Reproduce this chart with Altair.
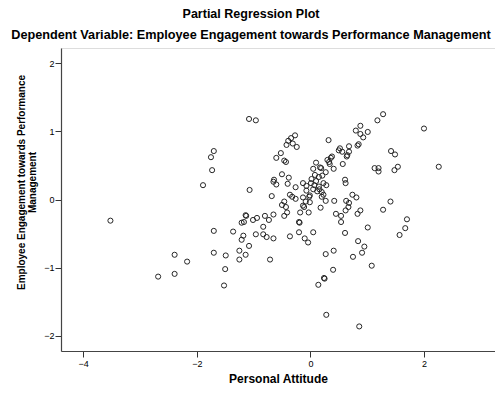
import altair as alt
import pandas as pd

attitude = [
    -1.08, -0.96, -1.70, -1.75, -1.73, -1.89, -1.07, -0.60, -0.52, -0.46,
    -0.43, -0.64, -0.65, -0.60, -0.50, -0.38, -0.40, -0.26, -0.68, -0.36,
    -0.32, -0.26, -0.13, -0.46, -0.50, -0.43, -0.41, -0.46,
    -0.27, -0.34, -0.39, -0.42, -0.31, -0.24, 0.32, 0.88, 0.80, 1.01,
    0.88, 0.93, 1.28, 1.18, 2.00, 0.85, 0.83, 0.68, 0.52, 0.50,
    0.56, 0.68, 0.65, 0.64, 1.42, 1.49, 0.38, 0.36, 0.30, 0.33,
    0.10, 0.57, 0.17, 0.19, 0.05, 0.41, 1.13, 1.20, 1.20, 1.54,
    1.48, 2.26, 0.27, 0.08, 0.15, 0.21, 0.34, 0.61, 0.62,
    -0.13, -0.07, 0.01, 0.07, 0.15, 0.23, 0.28, 0.05, 0.16, 0.20,
    -0.07, -0.01, 0.23, 0.10, 0.02, 0.12, -0.02, 0.20,
    0.74, 0.81, 0.42, 0.63, 0.68, 0.67, 0.62, 0.88, 0.83, 0.45,
    0.54, 0.54, 1.41, 1.28, 1.70, 1.67, 1.57, 1.01, 0.61, 0.84,
    0.95, 0.91, 0.41, 0.75, 1.08, 0.27, 0.40, 0.24, 0.25, 0.14,
    0.28, 0.86,
    -0.08, -0.01, -0.13, -0.11, -0.18, -0.03, 0.18, 0.27, -0.20, -0.19,
    -0.36, -0.20, -0.10, -0.04, 0.05,
    -1.14, -1.17, -1.21, -1.01, -0.94, -0.80, -0.73, -0.65, -0.83, -0.96,
    -0.83, -0.77, -0.65, -1.18, -1.21, -1.08, -1.14, -0.71, -1.70, -1.36,
    -1.70, -1.49, -1.25, -1.25, -2.39, -2.17, -1.50, -2.39, -2.68, -1.52,
    -3.52, -1.13,
]
engagement = [
    1.18, 1.16, 0.71, 0.62, 0.43, 0.21, 0.14, 0.61, 0.68, 0.57,
    0.55, 0.29, 0.26, 0.22, 0.37, 0.32, 0.23, 0.18, 0.05, 0.07,
    0.04, 0.01, 0.03, -0.03, -0.08, -0.11, -0.19, -0.24,
    0.94, 0.90, 0.86, 0.80, 0.82, 0.77, 0.87, 1.08, 1.01, 0.99,
    0.96, 0.91, 1.25, 1.16, 1.04, 0.81, 0.79, 0.78, 0.75, 0.72,
    0.70, 0.70, 0.65, 0.63, 0.71, 0.66, 0.63, 0.61, 0.58, 0.55,
    0.54, 0.52, 0.47, 0.46, 0.45, 0.45, 0.46, 0.46, 0.41, 0.48,
    0.43, 0.48, 0.40, 0.36, 0.33, 0.35, 0.52, 0.29, 0.24,
    0.24, 0.20, 0.24, 0.21, 0.19, 0.24, 0.21, 0.15, 0.15, 0.11,
    0.13, 0.06, 0.07, 0.27, 0.30, 0.12, 0.04, 0.04,
    0.07, 0.03, -0.02, -0.02, -0.05, -0.11, -0.16, -0.16, -0.21, -0.21,
    -0.24, -0.33, -0.03, -0.15, -0.29, -0.42, -0.52, -0.41, -0.49, -0.61,
    -0.69, -0.78, -0.75, -0.84, -0.97, -0.80, -1.03, -1.15, -1.16, -1.25,
    -1.69, -1.86,
    -0.03, -0.04, -0.09, -0.11, -0.19, -0.19, -0.12, -0.02, -0.33, -0.34,
    -0.54, -0.48, -0.57, -0.63, -0.48,
    -0.23, -0.33, -0.34, -0.30, -0.27, -0.24, -0.30, -0.22, -0.40, -0.51,
    -0.51, -0.55, -0.57, -0.53, -0.59, -0.68, -0.81, -0.88, -0.46, -0.47,
    -0.78, -0.82, -0.75, -0.88, -0.81, -0.91, -1.02, -1.09, -1.13, -1.26,
    -0.31, -0.24,
]

x_ticks = [-4, -2, 0, 2]
y_ticks = [-2, -1, 0, 1, 2]

df = pd.DataFrame({"Personal Attitude": attitude, "Engagement": engagement})

FONT = "Liberation Sans"

chart = (
    alt.Chart(df)
    .mark_point(shape="circle", filled=False, size=26, strokeWidth=1, color="#262626", opacity=1)
    .encode(
        x=alt.X(
            "Personal Attitude:Q",
            scale=alt.Scale(domain=[-4.39, 3.25], nice=False, zero=False),
            axis=alt.Axis(
                values=x_ticks, grid=False, title="Personal Attitude",
                titleFont=FONT, titleFontSize=12, titleFontWeight="bold", titleColor="black",
                titlePadding=5,
                labelFont=FONT, labelFontSize=9, labelColor="black", labelPadding=2,
                tickSize=6, tickColor="#333", domainColor="#444", domainWidth=1.2,
            ),
        ),
        y=alt.Y(
            "Engagement:Q",
            scale=alt.Scale(domain=[-2.22, 2.22], nice=False, zero=False),
            axis=alt.Axis(
                values=y_ticks, grid=False,
                title=["Employee Engagement towards Performance", "Management"],
                titleFont=FONT, titleFontSize=10, titleFontWeight="bold", titleColor="black",
                titleX=-45, titleY=134, titleAlign="center", titleBaseline="top",
                titleLineHeight=11, titleAngle=270,
                labelFont=FONT, labelFontSize=9, labelColor="black", labelPadding=1,
                tickSize=6, tickColor="#333", domainColor="#444", domainWidth=1.2,
            ),
        ),
    )
    .properties(
        width=434,
        height=303,
        autosize=alt.AutoSizeParams(type="none"),
        padding={"left": 53, "top": 40, "right": 0, "bottom": 34},
        title=alt.TitleParams(
            text="Partial Regression Plot",
            subtitle="Dependent Variable: Employee Engagement towards Performance Management",
            font=FONT, fontSize=12.5, fontWeight="bold", color="black",
            subtitleFont=FONT, subtitleFontSize=12.7, subtitleFontWeight="bold", subtitleColor="black",
            anchor="middle", dx=-27, offset=6, subtitlePadding=9,
        ),
    )
    .configure_view(fill="#f0f0f0", stroke="#8a8a8a", strokeWidth=1)
    .configure(background="white")
)

chart.save("out.html", embed_options={"renderer": "svg", "actions": False})
